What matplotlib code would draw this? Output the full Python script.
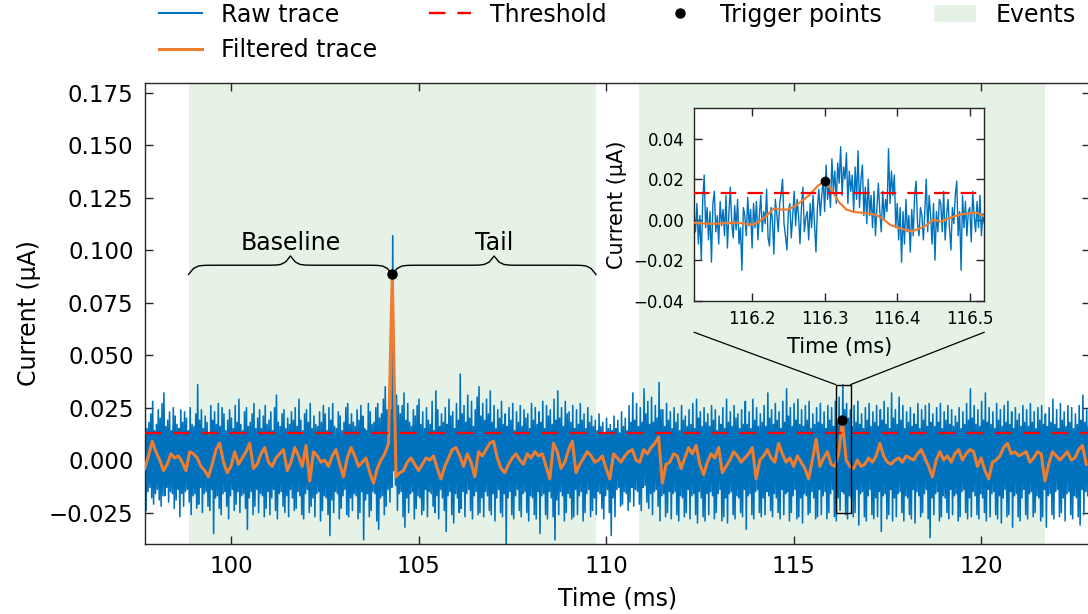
import numpy as np
import matplotlib
matplotlib.use("Agg")
import matplotlib.pyplot as plt
from matplotlib.patches import Rectangle, ConnectionPatch, Patch

# ---------------- data (currents in nA = 1e-3 uA unless noted) ----------------
t0 = 97.7          # ms, start of the recorded window
raw_dt = 0.05      # ms, bin width of the raw trace extremes
filt_dt = 0.1      # ms, sample spacing of the filtered trace

# raw trace: upper / lower extreme inside each 0.05 ms bin
raw_hi = [26, 15, 18, 22, 28, 14, 17, 24, 20, 27,
          32, 16, 19, 23, 14, 25, 21, 17, 15, 24,
          18, 23, 20, 14, 25, 17, 16, 22, 36, 19,
          24, 15, 21, 18, 13, 26, 19, 23, 17, 27,
          16, 25, 22, 14, 19, 24, 20, 15, 26, 18,
          29, 17, 14, 23, 25, 16, 18, 22, 27, 15,
          20, 24, 15, 21, 26, 17, 19, 23, 14, 25,
          31, 18, 16, 22, 24, 15, 20, 17, 23, 19,
          25, 16, 29, 19, 14, 22, 24, 18, 27, 15,
          21, 17, 16, 23, 18, 26, 22, 14, 25, 19,
          27, 16, 15, 23, 21, 14, 18, 25, 27, 17,
          22, 18, 16, 24, 19, 26, 21, 15, 14, 27,
          23, 17, 18, 25, 27, 20, 22, 29, 35, 24,
          30, 24, 107, 33, 31, 26, 22, 26, 32, 19,
          27, 18, 16, 24, 21, 26, 29, 17, 23, 15,
          25, 19, 17, 28, 14, 33, 24, 16, 22, 18,
          25, 17, 29, 21, 23, 15, 27, 19, 41, 22,
          26, 18, 31, 20, 28, 16, 24, 30, 35, 21,
          27, 19, 29, 22, 33, 18, 26, 15, 24, 20,
          28, 17, 22, 16, 25, 19, 27, 14, 23, 18,
          26, 16, 24, 20, 22, 15, 27, 19, 25, 17,
          23, 18, 28, 15, 26, 21, 24, 17, 29, 19,
          33, 20, 25, 16, 28, 22, 23, 18, 26, 15,
          24, 17, 27, 19, 22, 15, 25, 18, 21, 16,
          19, 14, 22, 16, 18, 13, 20, 15, 17, 14,
          21, 15, 19, 13, 23, 16, 20, 14, 26, 18,
          32, 19, 27, 16, 25, 18, 34, 22, 28, 17,
          30, 18, 26, 20, 37, 24, 24, 16, 27, 19,
          23, 15, 25, 18, 22, 14, 26, 19, 21, 16,
          24, 17, 27, 15, 29, 20, 23, 16, 25, 18,
          22, 16, 26, 19, 24, 14, 21, 17, 25, 15,
          29, 18, 23, 16, 26, 20, 22, 15, 24, 17,
          28, 17, 23, 15, 29, 19, 25, 16, 22, 18,
          26, 16, 32, 20, 24, 17, 27, 19, 23, 15,
          28, 18, 34, 21, 25, 16, 27, 19, 29, 17,
          24, 16, 26, 19, 28, 15, 22, 17, 25, 18,
          27, 17, 23, 15, 26, 19, 25, 16, 28, 18,
          30, 19, 36, 24, 27, 20, 24, 16, 26, 18,
          28, 17, 22, 15, 25, 19, 27, 16, 23, 18,
          26, 16, 24, 19, 28, 17, 25, 15, 32, 20,
          24, 17, 30, 19, 26, 15, 23, 18, 25, 16,
          22, 17, 27, 15, 24, 19, 26, 16, 27, 18,
          22, 16, 25, 18, 27, 15, 23, 19, 26, 17,
          24, 16, 21, 18, 25, 15, 23, 17, 27, 19,
          34, 20, 26, 17, 24, 16, 28, 19, 32, 18,
          25, 17, 23, 15, 27, 19, 24, 16, 26, 18,
          28, 17, 23, 15, 25, 19, 22, 16, 26, 18,
          24, 16, 27, 18, 23, 15, 25, 19, 26, 17,
          22, 16, 25, 18, 29, 17, 24, 15, 27, 19,
          23, 16, 26, 18, 25, 15, 22, 17, 26, 19,
          31, 18, 24, 16]
raw_lo = [-24, -15, -13, -18, -21, -16, -14, -19, -22, -17,
          -17, -13, -20, -15, -16, -23, -19, -14, -27, -16,
          -22, -15, -14, -20, -26, -17, -16, -23, -21, -13,
          -25, -16, -15, -22, -24, -14, -35, -18, -17, -23,
          -26, -16, -15, -22, -28, -17, -14, -24, -21, -15,
          -25, -17, -16, -23, -33, -18, -15, -26, -22, -14,
          -25, -16, -17, -27, -23, -15, -26, -18, -14, -24,
          -28, -16, -15, -22, -25, -17, -27, -14, -18, -24,
          -23, -15, -17, -26, -28, -16, -14, -25, -22, -18,
          -27, -16, -15, -29, -24, -17, -18, -26, -36, -19,
          -25, -15, -16, -28, -23, -17, -14, -26, -27, -18,
          -24, -16, -17, -28, -25, -15, -38, -19, -16, -27,
          -24, -15, -16, -29, -33, -18, -17, -26, -22, -14,
          -20, -13, -5, -12, -24, -16, -15, -27, -32, -18,
          -25, -16, -15, -28, -23, -17, -18, -26, -24, -14,
          -27, -15, -16, -22, -25, -17, -28, -14, -18, -24,
          -34, -17, -15, -26, -30, -16, -18, -25, -23, -15,
          -27, -16, -14, -24, -28, -17, -15, -26, -25, -18,
          -27, -15, -17, -24, -26, -16, -29, -18, -14, -25,
          -27, -16, -40, -18, -15, -26, -28, -17, -14, -24,
          -27, -16, -15, -25, -29, -17, -18, -26, -28, -15,
          -35, -17, -16, -26, -28, -15, -18, -27, -38, -19,
          -26, -15, -17, -29, -25, -16, -18, -28, -27, -14,
          -26, -17, -15, -29, -25, -16, -14, -27, -24, -18,
          -26, -15, -16, -23, -28, -17, -14, -25, -36, -18,
          -27, -14, -13, -22, -21, -15, -16, -24, -20, -13,
          -22, -14, -15, -21, -24, -13, -12, -20, -23, -16,
          -26, -15, -14, -22, -29, -17, -16, -27, -25, -15,
          -28, -16, -15, -26, -29, -17, -18, -27, -25, -14,
          -28, -17, -16, -26, -30, -15, -18, -27, -29, -16,
          -26, -15, -17, -28, -25, -16, -14, -29, -27, -18,
          -30, -16, -15, -26, -28, -17, -18, -25, -27, -14,
          -33, -17, -16, -26, -28, -15, -14, -25, -27, -18,
          -26, -15, -17, -24, -27, -16, -18, -25, -28, -14,
          -26, -16, -15, -29, -25, -17, -14, -28, -27, -18,
          -30, -16, -17, -26, -25, -15, -18, -28, -27, -14,
          -26, -17, -15, -28, -25, -16, -14, -27, -29, -18,
          -24, -15, -16, -26, -28, -17, -18, -27, -25, -14,
          -31, -16, -15, -27, -29, -17, -14, -26, -28, -18,
          -27, -15, -34, -17, -16, -28, -26, -14, -29, -18,
          -27, -16, -15, -25, -29, -17, -18, -26, -28, -14,
          -30, -15, -17, -27, -25, -16, -14, -28, -37, -18,
          -26, -16, -15, -29, -27, -17, -18, -25, -28, -14,
          -26, -17, -16, -29, -27, -15, -14, -25, -28, -18,
          -27, -15, -17, -26, -28, -16, -18, -25, -29, -14,
          -27, -16, -15, -26, -28, -17, -30, -18, -14, -27,
          -26, -15, -32, -17, -16, -27, -29, -18, -14, -26,
          -28, -16, -15, -27, -25, -17, -18, -29, -27, -14,
          -32, -17, -16, -26, -28, -15, -14, -27, -25, -18,
          -29, -16, -15, -26, -28, -17, -18, -27, -31, -14,
          -26, -15, -17, -28]
# filtered trace, one sample every 0.1 ms from t0
filt = [-4, 2, 9, 4, 0, -5, -2, 3, 1, 2,
        -1, -5, 4, 3, 1, -3, -5, -8, -2, 5,
        8, -1, -6, -3, 4, -2, 1, 4, 8, -4,
        -2, 3, 6, -1, -3, 1, 3, 5, -5, -1,
        6, 2, -3, 7, -10, 4, 2, -1, 0, -3,
        2, 5, -2, -8, 1, 6, 2, -3, -1, 1,
        -6, -11, -4, 0, 3, 8, 89, -8, -6, -5,
        -1, 1, -2, -5, -2, 1, 0, 2, -4, -9,
        -3, 1, 5, 6, 2, -3, 3, -1, -8, 4,
        2, 5, 8, 9, 1, -4, -6, -2, 1, 3,
        0, -2, 3, 1, 4, 2, 3, -3, -9, 8,
        4, -4, -1, 5, 9, -6, -2, 1, 4, 2,
        -1, 0, 2, -4, -9, 3, 1, -1, 2, 4,
        5, 0, -1, 5, 3, 6, 8, 11, -11, -2,
        -1, 3, 2, -4, 1, 6, 3, 7, -2, -7,
        -1, 3, 1, 6, -6, -3, 0, 4, 2, -1,
        1, 3, 6, -9, 0, 2, 5, 1, -1, 8,
        3, -1, 1, -3, 2, -1, -4, -9, 0, 10,
        -3, 1, 4, -2, -3, 3, 19, 0, -3, -4,
        0, -3, -2, 1, -1, 2, 8, 2, -1, -2,
        0, 1, -1, 2, 1, 0, 3, 5, 1, -3,
        -8, 0, 4, 0, 2, -1, 3, 5, 0, 3,
        5, 4, -3, 1, -5, -9, -1, 0, 2, 6,
        8, 3, 4, 2, 3, 4, -1, 1, 4, 3,
        -10, -2, 4, 2, 0, 2, 4, 0, 1, 5,
        7, -2]

threshold = 0.013                 # uA
trig_t = [104.3, 116.3]           # ms
trig_v = [0.0885, 0.0192]         # uA
event_start = [98.87, 110.88]     # ms
event_end = [109.73, 121.71]      # ms
brace_labels = ["Baseline", "Tail"]

# zoomed window (inset)
inset_t0 = 116.12
inset_span = 0.40
inset_raw_dt = 0.002
inset_raw = [3, -6, 8, -12, 2, -20, 10, 22, -4, 6,
             -10, 4, -21, 8, 14, -6, 2, -12, 9, -3,
             5, -8, 12, -14, 3, 16, -2, -9, 7, -5,
             10, -12, -4, -25, 6, 2, -8, 11, -3, 5,
             -14, 8, -4, 9, -10, 2, 12, -6, 4, -2,
             15, -9, -13, 6, 0, -17, 10, 3, -6, 8,
             13, 20, -2, -8, -15, 4, 8, -9, 2, 14,
             -3, 10, 2, -12, 6, 16, -6, 1, 4, -10,
             8, -4, 12, -2, -16, 6, 15, 2, 12, 20,
             4, 27, 10, 18, 6, 30, 14, 24, 8, 28,
             18, 36, 12, 26, 20, 33, 8, 24, 14, 22,
             4, 26, 10, 34, 6, 20, 27, 2, 16, -2,
             20, 2, 12, -4, 14, -8, 6, 18, 4, -6,
             14, 0, 10, 4, 35, 8, 24, 12, 22, -4,
             8, -10, 6, -21, 4, -12, 10, -6, 2, -16,
             5, -8, 12, 19, -2, -8, 6, 2, -10, 4,
             20, -6, 12, 2, -12, 8, -20, 4, -6, 10,
             8, -6, 14, -10, 2, 10, -4, -15, 6, -2,
             12, 19, -8, 4, -25, 12, -4, 9, -8, 4,
             6, -11, 14, 2, -6, 9, -4, 12, -8, 3,
             -2]
inset_filt_dt = 0.01
inset_filt = [-1.5, -1.8, -2.0, -2.0, -1.8, -1.6, -1.5, -2.0, -2.5, -1.0,
              2.0, 5.5, 5.0, 5.0, 7.0, 9.5, 12.5, 16.5, 19.2, 14.5,
              8.5, 5.0, 3.8, 3.5, 3.0, 2.5, 0.5, -2.5, -3.8, -5.0,
              -5.8, -4.5, -2.8, 0.0, -1.0, 0.5, 1.8, 2.7, 3.2, 3.4,
              1.5]
nA = 1e-3

# ---------------- style ----------------
BLUE = "#0072bd"
ORANGE = "#ed7d31"
RED = "#ff0000"
EDGE = "#262626"

plt.rcParams.update({
    "font.family": ["DejaVu Sans"],
    "font.size": 16.5,
    "axes.edgecolor": EDGE,
    "axes.linewidth": 1.0,
    "xtick.color": EDGE,
    "ytick.color": EDGE,
    "xtick.labelcolor": "black",
    "ytick.labelcolor": "black",
    "xtick.direction": "in",
    "ytick.direction": "in",
    "xtick.top": True,
    "ytick.right": True,
    "xtick.major.size": 6,
    "ytick.major.size": 6,
    "xtick.major.width": 1.0,
    "ytick.major.width": 1.0,
    "xtick.major.pad": 8,
    "ytick.major.pad": 8,
})

fig = plt.figure(figsize=(10.88, 6.14), dpi=100)
ax = fig.add_axes([0.1330, 0.1140, 0.8688, 0.7516])

# raw trace drawn through the min/max excursion inside each bin
k = np.arange(len(raw_hi))
t_end = t0 + raw_dt * len(raw_hi)
rx = np.empty(2 * len(k))
ry = np.empty(2 * len(k))
rx[0::2] = t0 + raw_dt * (k + 0.25)
rx[1::2] = t0 + raw_dt * (k + 0.75)
ry[0::2] = np.asarray(raw_hi) * nA
ry[1::2] = np.asarray(raw_lo) * nA
h_raw, = ax.plot(rx, ry, color=BLUE, lw=1.15, zorder=2)

fk = np.arange(len(filt))
h_filt, = ax.plot(t0 + filt_dt * fk, np.asarray(filt) * nA, color=ORANGE, lw=2.2,
                  zorder=3)
h_thr = ax.axhline(threshold, color=RED, lw=1.7, linestyle=(0, (7, 5)), zorder=4)
h_trig, = ax.plot(trig_t, trig_v, linestyle="none", marker="o", color="black",
                  ms=6.5, zorder=5)
for s, e in zip(event_start, event_end):
    ax.axvspan(s, e, color="green", alpha=0.1, lw=0, zorder=0)
h_evt = Patch(facecolor="green", alpha=0.1, edgecolor="none")

ax.set_xlim(t0, t_end)
ax.set_ylim(-0.04, 0.18)
ax.set_xticks([100, 105, 110, 115, 120])
ax.set_yticks(np.arange(-0.025, 0.176, 0.025))
ax.set_xlabel("Time (ms)", fontsize=17, labelpad=6)
ax.set_ylabel("Current (µA)", fontsize=17, labelpad=6)

leg = ax.legend([h_raw, h_filt, h_thr, h_trig, h_evt],
                ["Raw trace", "Filtered trace", "Threshold", "Trigger points", "Events"],
                ncol=4, loc="lower center", bbox_to_anchor=(0.5, 1.0), frameon=False,
                fontsize=17, handlelength=1.8, columnspacing=2.2, borderaxespad=0.45)
leg.get_lines()[0].set_linewidth(1.5)


# ---------------- curly braces ----------------
def draw_brace(ax, xspan, yy, text):
    xmin, xmax = xspan
    ax_xmin, ax_xmax = ax.get_xlim()
    xax_span = ax_xmax - ax_xmin
    ymin, ymax = ax.get_ylim()
    yspan = ymax - ymin
    resolution = int((xmax - xmin) / xax_span * 100) * 2 + 1
    beta = 300.0 / xax_span
    x = np.linspace(xmin, xmax, resolution)
    x_half = x[:int(resolution / 2) + 1]
    y_half = (1 / (1.0 + np.exp(-beta * (x_half - x_half[0])))
              + 1 / (1.0 + np.exp(-beta * (x_half - x_half[-1]))))
    y = np.concatenate((y_half, y_half[-2::-1]))
    y = yy + 0.04 * y * yspan
    ax.plot(x, y, color="black", lw=1.0, zorder=4)
    ax.text((xmin + xmax) / 2.0, yy + 0.074 * yspan, text, ha="center",
            va="baseline", fontsize=17)


yy = trig_v[0] - 0.02 * (0.18 + 0.04)
draw_brace(ax, (event_start[0], trig_t[0]), yy, brace_labels[0])
draw_brace(ax, (trig_t[0], event_end[0]), yy, brace_labels[1])

# ---------------- inset ----------------
ins = fig.add_axes([0.6379, 0.5103, 0.2668, 0.3134])
ins.set_zorder(10)
ir = np.arange(len(inset_raw))
ins.plot(inset_t0 + inset_raw_dt * ir, np.asarray(inset_raw) * nA, color=BLUE,
         lw=1.0, zorder=2)
iff = np.arange(len(inset_filt))
ins.plot(inset_t0 + inset_filt_dt * iff, np.asarray(inset_filt) * nA, color=ORANGE,
         lw=1.6, zorder=3)
ins.axhline(threshold, color=RED, lw=1.6, linestyle=(0, (7, 5)), zorder=4)
ins.plot([trig_t[1]], [trig_v[1]], linestyle="none", marker="o", color="black",
         ms=6, zorder=5)
ins.set_xlim(inset_t0, inset_t0 + inset_span)
ins.set_ylim(-0.04, 0.055)
ins.set_xticks([116.2, 116.3, 116.4, 116.5])
ins.set_yticks([-0.04, -0.02, 0.0, 0.02, 0.04])
ins.ticklabel_format(useOffset=False)
ins.tick_params(labelsize=12, pad=7)
ins.set_xlabel("Time (ms)", fontsize=15, labelpad=6)
ins.set_ylabel("Current (µA)", fontsize=15, labelpad=5)

# box on main axes around the zoomed window
ymin_box = min(inset_raw) * nA
ymax_box = max(inset_raw) * nA
ax.add_patch(Rectangle((inset_t0, ymin_box), inset_span, ymax_box - ymin_box,
                       fill=False, edgecolor="black", lw=1.0, zorder=6))
for fx, bx in ((0.0, inset_t0), (1.0, inset_t0 + inset_span)):
    con = ConnectionPatch(xyA=(fx, -0.164), coordsA=ins.transAxes,
                          xyB=(bx, ymax_box), coordsB=ax.transData,
                          color="black", lw=0.9)
    fig.add_artist(con)

fig.savefig("out.png", dpi=100)
